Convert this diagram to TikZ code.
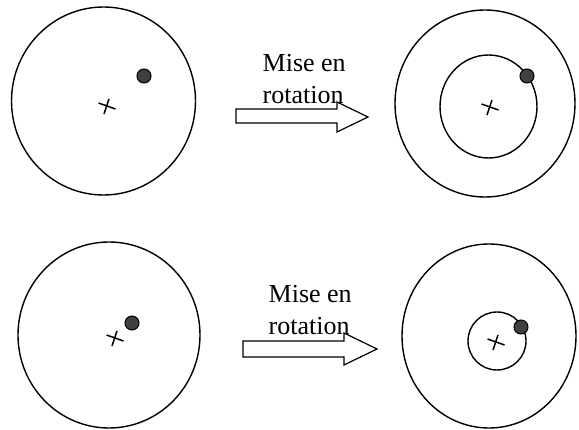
\documentclass[tikz,border=0pt]{standalone}
\usepackage{fontspec}
\setmainfont{Liberation Serif}
\begin{document}
\begin{tikzpicture}[x=1pt,y=-1pt,line width=1.4pt,
  ring/.style={draw=black},
  ball/.style={draw=black,line width=1pt,fill=black!75},
  blockarrow/.style={draw=black,line width=1.2pt,fill=white},
  caption/.style={align=left,inner sep=0pt,anchor=north west,font=\fontsize{26}{32}\selectfont},
  crossmark/.pic={\draw[line width=1.5pt] (-8.5,-3) -- (8.5,3); \draw[line width=1.5pt] (-3,8) -- (2,-7);}]
\useasboundingbox (0,0) rectangle (579,430);
% top left
\draw[ring] (103.5,101) ellipse[x radius=92,y radius=94];
\pic at (107,106) {crossmark};
\draw[ball] (144,76) circle[radius=7];
% top arrow
\draw[blockarrow] (236,109) -- (337,109) -- (337,102) -- (368,117) -- (337,132) -- (337,123) -- (236,123) -- cycle;
\node[caption] (t1) at (262,54) {Mise en\\rotation};
% top right
\draw[ring] (485,103.5) ellipse[x radius=90,y radius=93.5];
\draw[ring] (488.5,106.5) ellipse[x radius=48.5,y radius=51.5];
\pic at (490,107) {crossmark};
\draw[ball] (527,76) circle[radius=7];
% bottom left
\draw[ring] (109,335) ellipse[x radius=91,y radius=93];
\pic at (115,338) {crossmark};
\draw[ball] (132,323) circle[radius=7];
% bottom arrow
\draw[blockarrow] (243,341) -- (344,341) -- (344,333) -- (377,349) -- (344,365) -- (344,357) -- (243,357) -- cycle;
\node[caption] (t2) at (268,285) {Mise en\\rotation};
% bottom right
\draw[ring] (489,336) ellipse[x radius=87,y radius=92];
\draw[ring] (497,341) circle[radius=29];
\pic at (496,342) {crossmark};
\draw[ball] (521,327) circle[radius=7];
\end{tikzpicture}
\end{document}
